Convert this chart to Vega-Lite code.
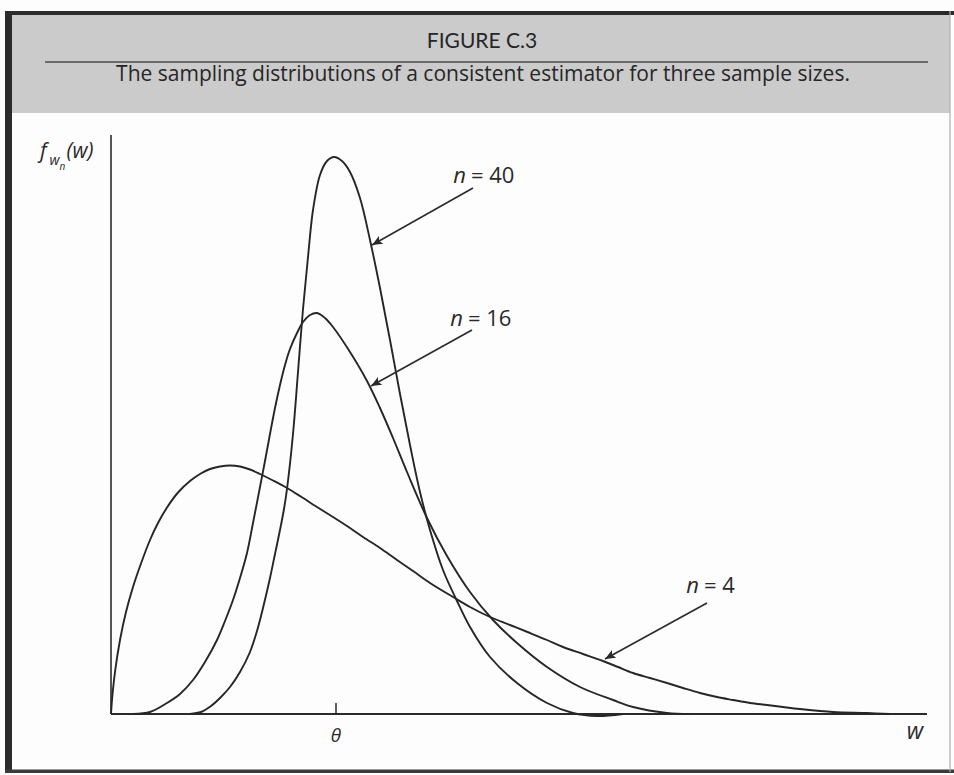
{
  "$schema": "https://vega.github.io/schema/vega-lite/v6.json",
  "width": 954,
  "height": 775,
  "autosize": {"type": "fit", "contains": "padding"},
  "padding": 0,
  "background": "#fdfdfd",
  "config": {"view": {"stroke": null}},
  "datasets": {
    "curves": [
      {"n": "4", "w": 0, "f": 0}, {"n": "4", "w": 0.01, "f": 0.14}, {"n": "4", "w": 0.04, "f": 0.42}, {"n": "4", "w": 0.09, "f": 0.74},
      {"n": "4", "w": 0.15, "f": 1.02}, {"n": "4", "w": 0.22, "f": 1.27}, {"n": "4", "w": 0.30, "f": 1.505}, {"n": "4", "w": 0.39, "f": 1.74},
      {"n": "4", "w": 0.47, "f": 1.91}, {"n": "4", "w": 0.56, "f": 2.065}, {"n": "4", "w": 0.67, "f": 2.215}, {"n": "4", "w": 0.79, "f": 2.33},
      {"n": "4", "w": 0.89, "f": 2.40}, {"n": "4", "w": 0.99, "f": 2.45}, {"n": "4", "w": 1.09, "f": 2.475}, {"n": "4", "w": 1.19, "f": 2.485},
      {"n": "4", "w": 1.29, "f": 2.475}, {"n": "4", "w": 1.39, "f": 2.445}, {"n": "4", "w": 1.49, "f": 2.40}, {"n": "4", "w": 1.62, "f": 2.335},
      {"n": "4", "w": 1.76, "f": 2.26}, {"n": "4", "w": 1.89, "f": 2.18}, {"n": "4", "w": 2.06, "f": 2.07}, {"n": "4", "w": 2.22, "f": 1.97},
      {"n": "4", "w": 2.39, "f": 1.86}, {"n": "4", "w": 2.52, "f": 1.77}, {"n": "4", "w": 2.69, "f": 1.66}, {"n": "4", "w": 2.86, "f": 1.54},
      {"n": "4", "w": 3.02, "f": 1.43}, {"n": "4", "w": 3.19, "f": 1.31}, {"n": "4", "w": 3.42, "f": 1.17}, {"n": "4", "w": 3.59, "f": 1.07},
      {"n": "4", "w": 3.79, "f": 0.97}, {"n": "4", "w": 3.99, "f": 0.89}, {"n": "4", "w": 4.19, "f": 0.81}, {"n": "4", "w": 4.36, "f": 0.74},
      {"n": "4", "w": 4.52, "f": 0.67}, {"n": "4", "w": 4.72, "f": 0.60}, {"n": "4", "w": 4.92, "f": 0.53}, {"n": "4", "w": 5.07, "f": 0.47},
      {"n": "4", "w": 5.22, "f": 0.41}, {"n": "4", "w": 5.39, "f": 0.36}, {"n": "4", "w": 5.56, "f": 0.31}, {"n": "4", "w": 5.72, "f": 0.26},
      {"n": "4", "w": 5.89, "f": 0.21}, {"n": "4", "w": 6.06, "f": 0.17}, {"n": "4", "w": 6.22, "f": 0.14}, {"n": "4", "w": 6.39, "f": 0.11},
      {"n": "4", "w": 6.56, "f": 0.09}, {"n": "4", "w": 6.72, "f": 0.07}, {"n": "4", "w": 6.89, "f": 0.05}, {"n": "4", "w": 7.22, "f": 0.02},
      {"n": "4", "w": 7.56, "f": 0.01}, {"n": "4", "w": 7.79, "f": 0},

      {"n": "16", "w": 0.22, "f": 0}, {"n": "16", "w": 0.39, "f": 0.02}, {"n": "16", "w": 0.56, "f": 0.11}, {"n": "16", "w": 0.69, "f": 0.20},
      {"n": "16", "w": 0.82, "f": 0.34}, {"n": "16", "w": 0.94, "f": 0.52}, {"n": "16", "w": 1.06, "f": 0.74}, {"n": "16", "w": 1.14, "f": 0.93},
      {"n": "16", "w": 1.22, "f": 1.14}, {"n": "16", "w": 1.29, "f": 1.36}, {"n": "16", "w": 1.36, "f": 1.61}, {"n": "16", "w": 1.42, "f": 1.91},
      {"n": "16", "w": 1.49, "f": 2.27}, {"n": "16", "w": 1.54, "f": 2.53}, {"n": "16", "w": 1.59, "f": 2.80}, {"n": "16", "w": 1.64, "f": 3.06},
      {"n": "16", "w": 1.69, "f": 3.29}, {"n": "16", "w": 1.74, "f": 3.49}, {"n": "16", "w": 1.79, "f": 3.65}, {"n": "16", "w": 1.86, "f": 3.81},
      {"n": "16", "w": 1.92, "f": 3.92}, {"n": "16", "w": 1.99, "f": 3.99}, {"n": "16", "w": 2.06, "f": 4.01}, {"n": "16", "w": 2.14, "f": 3.96},
      {"n": "16", "w": 2.22, "f": 3.87}, {"n": "16", "w": 2.39, "f": 3.62}, {"n": "16", "w": 2.56, "f": 3.33}, {"n": "16", "w": 2.69, "f": 3.06},
      {"n": "16", "w": 2.82, "f": 2.76}, {"n": "16", "w": 2.96, "f": 2.42}, {"n": "16", "w": 3.16, "f": 1.96}, {"n": "16", "w": 3.36, "f": 1.58},
      {"n": "16", "w": 3.59, "f": 1.22}, {"n": "16", "w": 3.82, "f": 0.94}, {"n": "16", "w": 4.06, "f": 0.71}, {"n": "16", "w": 4.36, "f": 0.47},
      {"n": "16", "w": 4.69, "f": 0.27}, {"n": "16", "w": 5.02, "f": 0.14}, {"n": "16", "w": 5.22, "f": 0.07}, {"n": "16", "w": 5.56, "f": 0.01},
      {"n": "16", "w": 5.79, "f": 0},

      {"n": "40", "w": 0.79, "f": 0}, {"n": "40", "w": 0.90, "f": 0.02}, {"n": "40", "w": 1.00, "f": 0.08}, {"n": "40", "w": 1.10, "f": 0.17},
      {"n": "40", "w": 1.19, "f": 0.27}, {"n": "40", "w": 1.29, "f": 0.42}, {"n": "40", "w": 1.39, "f": 0.62}, {"n": "40", "w": 1.46, "f": 0.83},
      {"n": "40", "w": 1.52, "f": 1.06}, {"n": "40", "w": 1.59, "f": 1.36}, {"n": "40", "w": 1.64, "f": 1.60}, {"n": "40", "w": 1.69, "f": 1.84},
      {"n": "40", "w": 1.73, "f": 2.05}, {"n": "40", "w": 1.76, "f": 2.25}, {"n": "40", "w": 1.82, "f": 2.80}, {"n": "40", "w": 1.87, "f": 3.42},
      {"n": "40", "w": 1.92, "f": 4.05}, {"n": "40", "w": 1.97, "f": 4.57}, {"n": "40", "w": 2.02, "f": 5.04}, {"n": "40", "w": 2.09, "f": 5.39},
      {"n": "40", "w": 2.16, "f": 5.53}, {"n": "40", "w": 2.23, "f": 5.57}, {"n": "40", "w": 2.31, "f": 5.53}, {"n": "40", "w": 2.39, "f": 5.42},
      {"n": "40", "w": 2.49, "f": 5.16}, {"n": "40", "w": 2.59, "f": 4.74}, {"n": "40", "w": 2.69, "f": 4.26}, {"n": "40", "w": 2.79, "f": 3.74},
      {"n": "40", "w": 2.89, "f": 3.20}, {"n": "40", "w": 2.99, "f": 2.69}, {"n": "40", "w": 3.09, "f": 2.22}, {"n": "40", "w": 3.19, "f": 1.84},
      {"n": "40", "w": 3.32, "f": 1.44}, {"n": "40", "w": 3.46, "f": 1.13}, {"n": "40", "w": 3.59, "f": 0.87}, {"n": "40", "w": 3.79, "f": 0.57},
      {"n": "40", "w": 4.06, "f": 0.31}, {"n": "40", "w": 4.36, "f": 0.11}, {"n": "40", "w": 4.62, "f": 0.01}, {"n": "40", "w": 4.86, "f": -0.02},
      {"n": "40", "w": 5.12, "f": 0}
    ],
    "arrows": [
      {"n": "40", "w0": 3.62, "f0": 5.26, "w1": 2.61, "f1": 4.69},
      {"n": "16", "w0": 3.61, "f0": 3.84, "w1": 2.60, "f1": 3.28},
      {"n": "4", "w0": 5.96, "f0": 1.11, "w1": 4.94, "f1": 0.55}
    ],
    "labels": [
      {"n": "40", "w": 3.55, "f": 5.31},
      {"n": "16", "w": 3.52, "f": 3.88},
      {"n": "4", "w": 5.88, "f": 1.21}
    ]
  },
  "layer": [
    {
      "data": {"values": [{}]},
      "mark": {"type": "rect", "fill": "#cbcbcb"},
      "encoding": {
        "x": {"datum": -1.01, "type": "quantitative", "scale": {"domain": [-1.11, 8.43], "nice": false, "zero": false}, "axis": null},
        "x2": {"datum": 8.39},
        "y": {"datum": 6.99, "type": "quantitative", "scale": {"domain": [-0.61, 7.14], "nice": false, "zero": false}, "axis": null},
        "y2": {"datum": 6.01}
      }
    },
    {
      "data": {"values": [{}]},
      "mark": {"type": "rect", "fill": "#2b2b2b"},
      "encoding": {
        "x": {"datum": -1.06, "type": "quantitative", "axis": null}, "x2": {"datum": 8.43},
        "y": {"datum": 7.03, "type": "quantitative", "axis": null}, "y2": {"datum": 6.99}
      }
    },
    {
      "data": {"values": [{}]},
      "mark": {"type": "rect", "fill": "#2b2b2b"},
      "encoding": {
        "x": {"datum": -1.06, "type": "quantitative", "axis": null}, "x2": {"datum": -0.99},
        "y": {"datum": 7.03, "type": "quantitative", "axis": null}, "y2": {"datum": -0.59}
      }
    },
    {
      "data": {"values": [{}]},
      "mark": {"type": "rect", "fill": "#3a3a3a"},
      "encoding": {
        "x": {"datum": -1.06, "type": "quantitative", "axis": null}, "x2": {"datum": 8.43},
        "y": {"datum": -0.555, "type": "quantitative", "axis": null}, "y2": {"datum": -0.59}
      }
    },
    {
      "data": {"values": [{}]},
      "mark": {"type": "rule", "stroke": "#b0b0b0", "strokeWidth": 1.2},
      "encoding": {
        "x": {"datum": 8.39, "type": "quantitative", "axis": null},
        "y": {"datum": 7.03, "type": "quantitative", "axis": null}, "y2": {"datum": -0.58}
      }
    },
    {
      "data": {"values": [{}]},
      "mark": {"type": "rule", "stroke": "#4a4a4a", "strokeWidth": 1.5},
      "encoding": {
        "x": {"datum": -0.66, "type": "quantitative", "axis": null}, "x2": {"datum": 8.17},
        "y": {"datum": 6.52, "type": "quantitative", "axis": null}
      }
    },
    {
      "data": {"values": [{}]},
      "mark": {"type": "text", "text": "FIGURE C.3", "font": "Lato", "fontSize": 21, "color": "#262626", "align": "center", "baseline": "middle"},
      "encoding": {
        "x": {"datum": 3.71, "type": "quantitative", "axis": null},
        "y": {"datum": 6.72, "type": "quantitative", "axis": null}
      }
    },
    {
      "data": {"values": [{}]},
      "mark": {"type": "text", "text": "The sampling distributions of a consistent estimator for three sample sizes.", "font": "Open Sans", "fontSize": 21, "color": "#262626", "align": "center", "baseline": "alphabetic"},
      "encoding": {
        "x": {"datum": 3.72, "type": "quantitative", "axis": null},
        "y": {"datum": 6.33, "type": "quantitative", "axis": null}
      }
    },
    {
      "data": {"values": [{}]},
      "mark": {"type": "rule", "stroke": "#2a2a2a", "strokeWidth": 1.6},
      "encoding": {
        "x": {"datum": 0, "type": "quantitative", "axis": null},
        "y": {"datum": 0, "type": "quantitative", "axis": null}, "y2": {"datum": 5.79}
      }
    },
    {
      "data": {"values": [{}]},
      "mark": {"type": "rule", "stroke": "#2a2a2a", "strokeWidth": 2},
      "encoding": {
        "x": {"datum": 0, "type": "quantitative", "axis": null}, "x2": {"datum": 8.16},
        "y": {"datum": 0, "type": "quantitative", "axis": null}
      }
    },
    {
      "data": {"values": [{}]},
      "mark": {"type": "rule", "stroke": "#2a2a2a", "strokeWidth": 1.5},
      "encoding": {
        "x": {"datum": 2.25, "type": "quantitative", "axis": null},
        "y": {"datum": 0, "type": "quantitative", "axis": null}, "y2": {"datum": 0.11}
      }
    },
    {
      "data": {"name": "curves"},
      "mark": {"type": "line", "interpolate": "catmull-rom", "color": "#262626"},
      "encoding": {
        "x": {"field": "w", "type": "quantitative", "axis": null},
        "y": {"field": "f", "type": "quantitative", "axis": null},
        "detail": {"field": "n"},
        "strokeWidth": {"field": "n", "type": "nominal", "scale": {"domain": ["4", "16", "40"], "range": [1.9, 1.9, 2.8]}, "legend": null}
      }
    },
    {
      "data": {"name": "arrows"},
      "mark": {"type": "rule", "stroke": "#2a2a2a", "strokeWidth": 1.6},
      "encoding": {
        "x": {"field": "w0", "type": "quantitative", "axis": null}, "x2": {"field": "w1"},
        "y": {"field": "f0", "type": "quantitative", "axis": null}, "y2": {"field": "f1"}
      }
    },
    {
      "data": {"name": "arrows"},
      "mark": {"type": "point", "shape": "M0,0 L-0.42,1 L0,0.78 L0.42,1 Z", "filled": true, "color": "#2a2a2a", "size": 440, "angle": 240.6, "opacity": 1},
      "encoding": {
        "x": {"field": "w1", "type": "quantitative", "axis": null},
        "y": {"field": "f1", "type": "quantitative", "axis": null}
      }
    },
    {
      "data": {"name": "labels"},
      "mark": {"type": "text", "text": "n", "font": "Open Sans", "fontStyle": "italic", "fontSize": 22, "color": "#2a2a2a", "align": "right", "baseline": "alphabetic"},
      "encoding": {
        "x": {"field": "w", "type": "quantitative", "axis": null},
        "y": {"field": "f", "type": "quantitative", "axis": null}
      }
    },
    {
      "data": {"name": "labels"},
      "transform": [{"calculate": "'= ' + datum.n", "as": "txt"}],
      "mark": {"type": "text", "font": "Open Sans", "fontSize": 22, "color": "#2a2a2a", "align": "left", "baseline": "alphabetic", "dx": 5},
      "encoding": {
        "x": {"field": "w", "type": "quantitative", "axis": null},
        "y": {"field": "f", "type": "quantitative", "axis": null},
        "text": {"field": "txt"}
      }
    },
    {
      "data": {"values": [{}]},
      "mark": {"type": "text", "text": "f", "font": "Open Sans", "fontStyle": "italic", "fontSize": 21, "color": "#2a2a2a", "align": "left", "baseline": "alphabetic"},
      "encoding": {"x": {"datum": -0.71, "type": "quantitative", "axis": null}, "y": {"datum": 5.56, "type": "quantitative", "axis": null}}
    },
    {
      "data": {"values": [{}]},
      "mark": {"type": "text", "text": "w", "font": "Open Sans", "fontStyle": "italic", "fontSize": 14, "color": "#2a2a2a", "align": "left", "baseline": "alphabetic"},
      "encoding": {"x": {"datum": -0.615, "type": "quantitative", "axis": null}, "y": {"datum": 5.49, "type": "quantitative", "axis": null}}
    },
    {
      "data": {"values": [{}]},
      "mark": {"type": "text", "text": "n", "font": "Open Sans", "fontStyle": "italic", "fontSize": 10, "color": "#2a2a2a", "align": "left", "baseline": "alphabetic"},
      "encoding": {"x": {"datum": -0.515, "type": "quantitative", "axis": null}, "y": {"datum": 5.44, "type": "quantitative", "axis": null}}
    },
    {
      "data": {"values": [{}]},
      "mark": {"type": "text", "text": "(w)", "font": "Open Sans", "fontStyle": "italic", "fontSize": 21, "color": "#2a2a2a", "align": "left", "baseline": "alphabetic"},
      "encoding": {"x": {"datum": -0.445, "type": "quantitative", "axis": null}, "y": {"datum": 5.56, "type": "quantitative", "axis": null}}
    },
    {
      "data": {"values": [{}]},
      "mark": {"type": "text", "text": "θ", "font": "Open Sans", "fontStyle": "italic", "fontSize": 19, "color": "#2a2a2a", "align": "center", "baseline": "middle"},
      "encoding": {"x": {"datum": 2.25, "type": "quantitative", "axis": null}, "y": {"datum": -0.22, "type": "quantitative", "axis": null}}
    },
    {
      "data": {"values": [{}]},
      "mark": {"type": "text", "text": "w", "font": "Open Sans", "fontStyle": "italic", "fontSize": 23, "color": "#2a2a2a", "align": "center", "baseline": "middle"},
      "encoding": {"x": {"datum": 8.04, "type": "quantitative", "axis": null}, "y": {"datum": -0.18, "type": "quantitative", "axis": null}}
    }
  ]
}
